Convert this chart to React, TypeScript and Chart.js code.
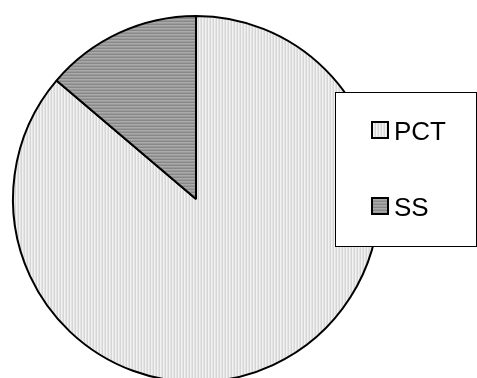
import React, { useEffect, useRef } from 'react';
import { Chart, registerables } from 'chart.js';
Chart.register(...registerables);

const categories: string[] = ['PCT', 'SS'];
const values: number[] = [86.2, 13.8];

function makePattern(kind: 'v' | 'h'): CanvasPattern | string {
  const c = document.createElement('canvas');
  c.width = 3;
  c.height = 3;
  const ctx = c.getContext('2d');
  if (!ctx) return kind === 'v' ? '#e3e3e3' : '#9a9a9a';
  const colsV = ['#d6d6d6', '#f2f2f2', '#e4e4e4'];
  const colsH = ['#888888', '#aaaaaa', '#9a9a9a'];
  for (let i = 0; i < 3; i++) {
    if (kind === 'v') {
      ctx.fillStyle = colsV[i];
      ctx.fillRect(i, 0, 1, 3);
    } else {
      ctx.fillStyle = colsH[i];
      ctx.fillRect(0, i, 3, 1);
    }
  }
  const p = ctx.createPattern(c, 'repeat');
  return p || (kind === 'v' ? '#e3e3e3' : '#9a9a9a');
}

export default function App() {
  const ref = useRef<HTMLCanvasElement | null>(null);

  useEffect(() => {
    if (!ref.current) return;
    const fills = [makePattern('v'), makePattern('h')];

    const boxLegend = {
      id: 'boxLegend',
      afterDraw(chart: any) {
        const ctx = chart.ctx as CanvasRenderingContext2D;
        ctx.save();
        ctx.fillStyle = '#ffffff';
        ctx.fillRect(335.5, 92.5, 141, 154);
        ctx.strokeStyle = '#000000';
        ctx.lineWidth = 1;
        ctx.strokeRect(335.5, 92.5, 141, 154);
        const baselines = [140, 216];
        categories.forEach((label, i) => {
          const b = baselines[i];
          ctx.fillStyle = fills[i] as any;
          ctx.fillRect(372, b - 18, 16, 16);
          ctx.strokeStyle = '#000';
          ctx.lineWidth = 2;
          ctx.strokeRect(372, b - 18, 16, 16);
          ctx.fillStyle = '#000';
          ctx.font = '26px "Liberation Sans", Arial, sans-serif';
          ctx.textBaseline = 'alphabetic';
          ctx.textAlign = 'left';
          ctx.fillText(label, 394, b);
        });
        ctx.restore();
      },
    };

    const chart = new Chart(ref.current, {
      type: 'pie',
      data: {
        labels: categories,
        datasets: [
          {
            data: values,
            backgroundColor: fills as any,
            borderColor: '#000000',
            borderWidth: 2,
            hoverOffset: 0,
            offset: 0,
          },
        ],
      },
      options: {
        responsive: false,
        animation: false,
        events: [],
        layout: { padding: { left: 12, top: 15, right: 97, bottom: 17 } },
        plugins: {
          legend: { display: false },
          tooltip: { enabled: false },
        },
      },
      plugins: [boxLegend],
    });
    return () => chart.destroy();
  }, []);

  return (
    <div
      style={{
        position: 'fixed',
        left: 0,
        top: 0,
        width: 477,
        height: 378,
        overflow: 'hidden',
        background: '#fff',
      }}
    >
      <canvas ref={ref} width={477} height={400} style={{ display: 'block' }} />
    </div>
  );
}
